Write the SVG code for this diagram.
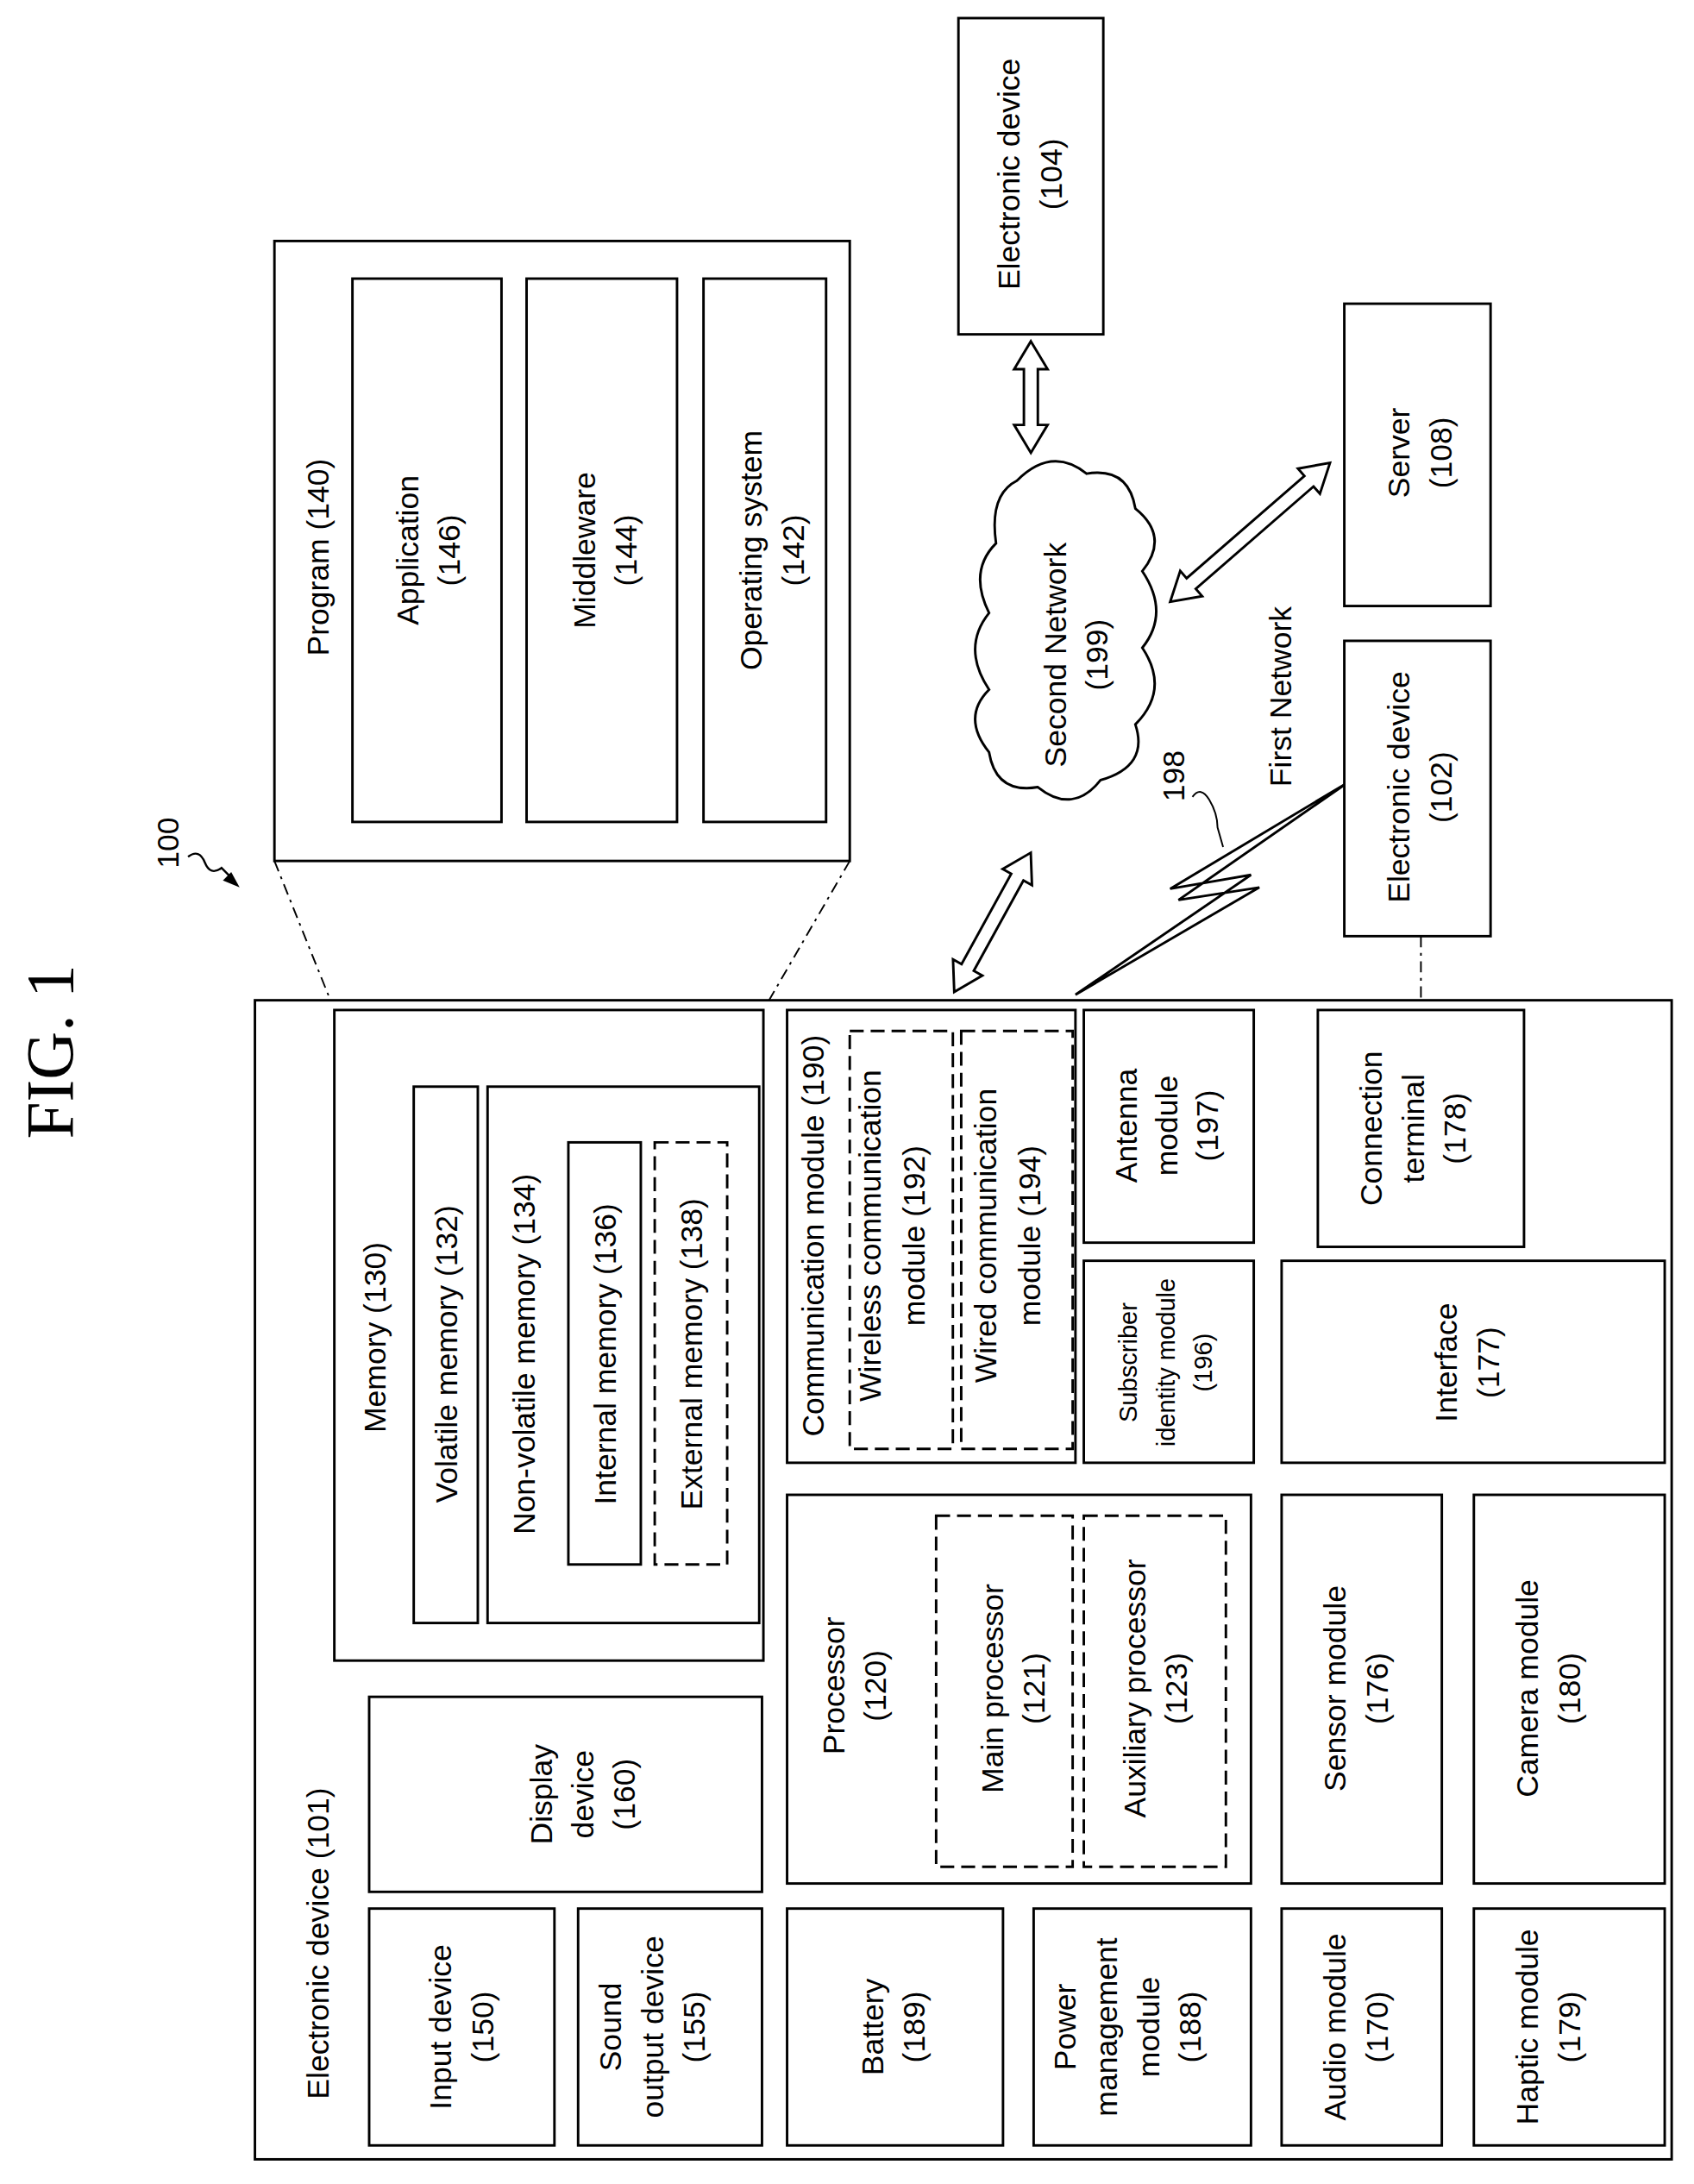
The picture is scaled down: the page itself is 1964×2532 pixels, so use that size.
<svg xmlns="http://www.w3.org/2000/svg" width="1964" height="2532" viewBox="0 0 1964 2532">
<style>
text{font-family:"Liberation Sans",Arial,sans-serif;font-size:22px;fill:#000}
.b{fill:#fff;stroke:#000;stroke-width:1.8}
.d{fill:#fff;stroke:#000;stroke-width:1.8;stroke-dasharray:10 5}
.l{fill:none;stroke:#000;stroke-width:1.2;stroke-dasharray:8 4 2 4}
.s{font-size:18px}
</style>
<rect width="1964" height="2532" fill="#fff"/>
<g transform="scale(1.6151)">
<text transform="translate(52,755) rotate(-90)" text-anchor="middle" style="font-family:'Liberation Serif',serif;font-size:48px">FIG. 1</text>
<g id="ref100"><text transform="translate(128,605) rotate(-90)" text-anchor="middle">100</text>
<path d="M135,615 q8,-6 12,4 q4,10 12,4 l8,8" fill="none" stroke="#000" stroke-width="1.5"/><polygon points="172,637 160,632 166,626" fill="#000"/></g>
<g id="connectors">
<line class="l" x1="197" y1="618" x2="240" y2="725"/>
<line class="l" x1="610" y1="618" x2="548" y2="725"/>
<line class="l" x1="1020" y1="672" x2="1020" y2="725"/>
<polygon class="b" transform="translate(740,245) rotate(90)" points="0,0 20,-12 20,-5 60,-5 60,-12 80,0 60,12 60,5 20,5 20,12"/>
<polygon class="b" transform="translate(685,712) rotate(-61.2)" points="0,0 20,-12 20,-5 94,-5 94,-12 114,0 94,12 94,5 20,5 20,12"/>
<polygon class="b" transform="translate(840,432) rotate(-41)" points="0,0 20,-12 20,-5 132,-5 132,-12 152,0 132,12 132,5 20,5 20,12"/>
<polygon class="b" points="772,714 898,628 840,638 967,562 846,646 904,637"/>
<path d="M856,572 q6,-8 12,2 q6,10 6,20 l4,14" fill="none" stroke="#000" stroke-width="1.2"/>
<text transform="translate(850,557) rotate(-90)" text-anchor="middle">198</text>
<text transform="translate(927,500) rotate(-90)" text-anchor="middle">First Network</text>
</g>
<g id="program"><rect class="b" x="197" y="173" width="413" height="445"/>
<text transform="translate(236,400) rotate(-90)" text-anchor="middle">Program (140)</text>
<rect class="b" x="253" y="200" width="107" height="390"/><text transform="translate(300,395) rotate(-90)" text-anchor="middle">Application<tspan x="0" dy="30">(146)</tspan></text>
<rect class="b" x="378" y="200" width="108" height="390"/><text transform="translate(427,395) rotate(-90)" text-anchor="middle">Middleware<tspan x="0" dy="30">(144)</tspan></text>
<rect class="b" x="505" y="200" width="88" height="390"/><text transform="translate(547,395) rotate(-90)" text-anchor="middle">Operating system<tspan x="0" dy="30">(142)</tspan></text>
</g>
<g id="dev104"><rect class="b" x="688" y="13" width="104" height="227"/><text transform="translate(732,125) rotate(-90)" text-anchor="middle">Electronic device<tspan x="0" dy="30">(104)</tspan></text></g>
<g id="server"><rect class="b" x="965" y="218" width="105" height="217"/><text transform="translate(1012,325) rotate(-90)" text-anchor="middle">Server<tspan x="0" dy="30">(108)</tspan></text></g>
<g id="dev102"><rect class="b" x="965" y="460" width="105" height="212"/><text transform="translate(1012,565) rotate(-90)" text-anchor="middle">Electronic device<tspan x="0" dy="30">(102)</tspan></text></g>
<g id="cloud"><path class="b" d="M730,345 q25,-25 50,-5 q30,-5 35,25 q25,20 5,45 q20,30 0,55 q20,30 -5,55 q10,30 -25,40 q-20,25 -45,5 q-30,5 -35,-25 q-20,-25 0,-45 q-20,-30 0,-55 q-15,-30 5,-50 q-5,-35 15,-45z"/>
<text transform="translate(765,470) rotate(-90)" text-anchor="middle">Second Network<tspan x="0" dy="30">(199)</tspan></text></g>
<g id="dev101"><rect class="b" x="183" y="718" width="1017" height="832"/>
<text transform="translate(236,1395) rotate(-90)" text-anchor="middle">Electronic device (101)</text></g>
<g id="memory"><rect class="b" x="240" y="725" width="308" height="467"/>
<text transform="translate(277,960) rotate(-90)" text-anchor="middle">Memory (130)</text>
<rect class="b" x="297" y="780" width="46" height="385"/><text transform="translate(328,972) rotate(-90)" text-anchor="middle">Volatile memory (132)</text>
<rect class="b" x="350" y="780" width="195" height="385"/><text transform="translate(384,972) rotate(-90)" text-anchor="middle">Non-volatile memory (134)</text>
<rect class="b" x="408" y="820" width="52" height="303"/><text transform="translate(442,972) rotate(-90)" text-anchor="middle">Internal memory (136)</text>
<rect class="d" x="470" y="820" width="52" height="303"/><text transform="translate(504,972) rotate(-90)" text-anchor="middle">External memory (138)</text></g>
<g id="display"><rect class="b" x="265" y="1218" width="282" height="140"/><text transform="translate(396,1288) rotate(-90)" text-anchor="middle">Display<tspan x="0" dy="30">device</tspan><tspan x="0" dy="30">(160)</tspan></text></g>
<g id="input"><rect class="b" x="265" y="1370" width="133" height="170"/><text transform="translate(324,1455) rotate(-90)" text-anchor="middle">Input device<tspan x="0" dy="30">(150)</tspan></text></g>
<g id="sound"><rect class="b" x="415" y="1370" width="132" height="170"/><text transform="translate(446,1455) rotate(-90)" text-anchor="middle">Sound<tspan x="0" dy="30">output device</tspan><tspan x="0" dy="30">(155)</tspan></text></g>
<g id="comm"><rect class="b" x="565" y="725" width="207" height="325"/><text transform="translate(591,887) rotate(-90)" text-anchor="middle">Communication module (190)</text>
<rect class="d" x="610" y="740" width="74" height="300"/><text transform="translate(632,887) rotate(-90)" text-anchor="middle">Wireless communication<tspan x="0" dy="32">module (192)</tspan></text>
<rect class="d" x="690" y="740" width="80" height="300"/><text transform="translate(715,887) rotate(-90)" text-anchor="middle">Wired communication<tspan x="0" dy="32">module (194)</tspan></text></g>
<g id="antenna"><rect class="b" x="778" y="725" width="122" height="167"/><text transform="translate(816,808) rotate(-90)" text-anchor="middle">Antenna<tspan x="0" dy="29">module</tspan><tspan x="0" dy="29">(197)</tspan></text></g>
<g id="sim"><rect class="b" x="778" y="905" width="122" height="145"/><text class="s" transform="translate(816,978) rotate(-90)" text-anchor="middle">Subscriber<tspan x="0" dy="27">identity module</tspan><tspan x="0" dy="27">(196)</tspan></text></g>
<g id="connterm"><rect class="b" x="946" y="725" width="148" height="170"/><text transform="translate(992,810) rotate(-90)" text-anchor="middle">Connection<tspan x="0" dy="30">terminal</tspan><tspan x="0" dy="30">(178)</tspan></text></g>
<g id="interface"><rect class="b" x="920" y="905" width="275" height="145"/><text transform="translate(1046,978) rotate(-90)" text-anchor="middle">Interface<tspan x="0" dy="30">(177)</tspan></text></g>
<g id="processor"><rect class="b" x="565" y="1073" width="333" height="279"/><text transform="translate(606,1210) rotate(-90)" text-anchor="middle">Processor<tspan x="0" dy="30">(120)</tspan></text>
<rect class="d" x="672" y="1088" width="98" height="252"/><text transform="translate(720,1212) rotate(-90)" text-anchor="middle">Main processor<tspan x="0" dy="30">(121)</tspan></text>
<rect class="d" x="778" y="1088" width="102" height="252"/><text transform="translate(822,1212) rotate(-90)" text-anchor="middle">Auxiliary processor<tspan x="0" dy="30">(123)</tspan></text></g>
<g id="battery"><rect class="b" x="565" y="1370" width="155" height="170"/><text transform="translate(634,1455) rotate(-90)" text-anchor="middle">Battery<tspan x="0" dy="30">(189)</tspan></text></g>
<g id="pmm"><rect class="b" x="742" y="1370" width="156" height="170"/><text transform="translate(772,1455) rotate(-90)" text-anchor="middle">Power<tspan x="0" dy="30">management</tspan><tspan x="0" dy="30">module</tspan><tspan x="0" dy="30">(188)</tspan></text></g>
<g id="sensor"><rect class="b" x="920" y="1073" width="115" height="279"/><text transform="translate(966,1212) rotate(-90)" text-anchor="middle">Sensor module<tspan x="0" dy="30">(176)</tspan></text></g>
<g id="camera"><rect class="b" x="1058" y="1073" width="137" height="279"/><text transform="translate(1104,1212) rotate(-90)" text-anchor="middle">Camera module<tspan x="0" dy="30">(180)</tspan></text></g>
<g id="audio"><rect class="b" x="920" y="1370" width="115" height="170"/><text transform="translate(966,1455) rotate(-90)" text-anchor="middle">Audio module<tspan x="0" dy="30">(170)</tspan></text></g>
<g id="haptic"><rect class="b" x="1058" y="1370" width="137" height="170"/><text transform="translate(1104,1455) rotate(-90)" text-anchor="middle">Haptic module<tspan x="0" dy="30">(179)</tspan></text></g>
</g>
</svg>
